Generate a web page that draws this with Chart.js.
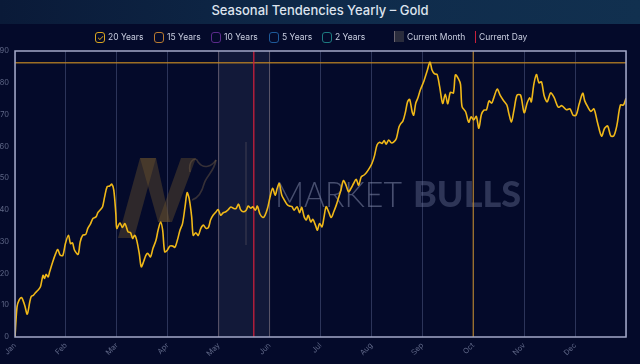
<!DOCTYPE html>
<html><head><meta charset="utf-8">
<script src="https://cdn.jsdelivr.net/npm/chart.js@4/dist/chart.umd.min.js"></script>
<style>
html,body{margin:0;padding:0;background:#040a2a;width:640px;height:364px;overflow:hidden;font-family:Inter,'Open Sans',sans-serif;}
#wrap{position:relative;width:640px;height:364px;}
canvas{position:absolute;left:0;top:0;z-index:1;}
#bar{position:absolute;left:0;top:0;width:640px;height:24px;background:linear-gradient(90deg,#0a1a38 0%,#0f2b4b 55%,#11304f 100%);z-index:2;}
#title{position:absolute;left:0;top:0;width:640px;height:21px;line-height:21px;text-align:center;color:#dde3ee;font-size:13px;font-weight:500;z-index:3;}
#legend{position:absolute;top:31px;left:0;width:640px;height:12px;font-size:8.5px;color:#c9cee0;z-index:3;}
.item{position:absolute;top:0;height:12px;line-height:12px;white-space:nowrap;}
.box{position:absolute;top:1px;width:8px;height:9px;border:1px solid;border-radius:3px;}
.chk{position:absolute;top:0px;left:1px;font-size:8px;line-height:11px;}
</style></head>
<body><div id="wrap">
<canvas id="c" width="640" height="364"></canvas>
<div id="bar"></div><div id="title">Seasonal Tendencies Yearly – Gold</div>
<div id="legend"></div>
</div>
<script>
const months = ['Jan','Feb','Mar','Apr','May','Jun','Jul','Aug','Sep','Oct','Nov','Dec'];
const legendLabels = ['20 Years','15 Years','10 Years','5 Years','2 Years'];
const legendColors = ['#d9a520','#b87a30','#5a2a8a','#1e5a9a','#1d7a80'];
const markerLabels = ['Current Month','Current Day'];
const currentMonth = [4, 5];
const currentDay = 4.69;
const maxLine = 86.3;
const markerMonth = 9;
const xPos = [0.00,0.04,0.08,0.13,0.19,0.24,0.29,0.32,0.36,0.40,0.45,0.50,0.55,0.58,0.61,0.65,0.68,0.74,0.80,0.84,0.89,0.94,0.99,1.05,1.09,1.13,1.17,1.24,1.28,1.33,1.39,1.43,1.48,1.53,1.59,1.63,1.68,1.72,1.76,1.81,1.86,1.90,1.94,1.98,2.00,2.06,2.11,2.16,2.22,2.27,2.31,2.35,2.39,2.44,2.48,2.53,2.57,2.61,2.66,2.71,2.77,2.81,2.86,2.90,2.94,2.99,3.04,3.10,3.14,3.19,3.24,3.29,3.34,3.38,3.42,3.47,3.50,3.55,3.60,3.65,3.70,3.75,3.80,3.84,3.89,3.95,3.99,4.04,4.09,4.14,4.19,4.24,4.29,4.34,4.39,4.43,4.48,4.54,4.58,4.63,4.67,4.72,4.76,4.81,4.87,4.91,4.96,5.01,5.06,5.11,5.15,5.19,5.24,5.29,5.34,5.39,5.44,5.48,5.54,5.59,5.63,5.68,5.72,5.76,5.81,5.85,5.90,5.94,5.98,6.03,6.07,6.11,6.16,6.21,6.26,6.31,6.35,6.40,6.45,6.50,6.55,6.60,6.65,6.70,6.75,6.80,6.85,6.90,6.97,7.01,7.06,7.11,7.16,7.21,7.25,7.29,7.34,7.39,7.44,7.49,7.54,7.57,7.62,7.67,7.71,7.75,7.80,7.83,7.87,7.91,7.96,8.03,8.10,8.15,8.19,8.24,8.29,8.34,8.40,8.45,8.50,8.55,8.61,8.65,8.71,8.75,8.78,8.85,8.91,8.96,9.01,9.06,9.11,9.16,9.21,9.26,9.31,9.36,9.40,9.47,9.53,9.59,9.66,9.70,9.75,9.80,9.86,9.93,10.00,10.06,10.11,10.14,10.19,10.24,10.29,10.34,10.39,10.45,10.52,10.59,10.67,10.74,10.83,10.90,10.96,11.02,11.08,11.15,11.19,11.25,11.31,11.37,11.44,11.52,11.58,11.64,11.70,11.76,11.82,11.89,11.95,12.00];
const gold20 = [0,9.5,11.6,12.4,10,7.2,11,12.8,13.1,13.9,14.7,15.8,19.4,18.4,19.7,18.9,20.5,23.6,26.3,27.5,25.7,25.7,29.4,32,29.4,29.6,27.3,26,29.9,32,32.3,34.2,35.5,37.3,37.8,39.2,40.1,41,44.1,47.3,47.5,48.1,46.2,38.9,34.2,35.9,34.5,35.7,33.1,32.8,31,32,30.5,26.3,22.1,23.9,25.7,26.3,25.2,27.9,30.5,33.6,36.2,33.6,26.8,27.3,28.6,28.6,28.2,30.5,33.6,35.7,41,45.4,43.6,37.8,32,32.8,32,34.2,35.2,34.2,34.5,36.8,38.3,39.4,40.1,38.3,39.1,39.4,40.1,40.9,40.5,40.4,41.8,40.1,39.4,39.9,41.2,40.5,41,39.9,41.2,38.7,37.6,38.3,40.5,44.1,46.8,44.6,46.8,48.3,44.6,43.1,41.8,41.2,41,39.9,41,39.1,40.8,37.8,36.8,38.3,36.2,37,35.2,33.6,35.7,34.7,37.8,41,39.4,37.6,39.4,41.5,43.6,46.2,49.2,47.8,45.7,46.8,48.3,49.6,47.8,50.4,50.9,51.7,53.4,54.6,57,60.4,61.3,60.9,61.8,60.7,62,61.1,61.4,62.5,66,67,68,70.9,74,74.8,70.9,69.8,73.5,75.1,77.7,80.5,84,86.5,84,82.8,82.6,78.8,73.5,76.4,73.4,77,76.8,82.5,81.2,79.5,72.5,70.9,67.6,69.3,68.3,69.4,65.7,70,71.4,71.5,74.3,73.6,75.1,78,76,74.5,73,70.3,67.7,71.4,76.1,76.1,70.6,73.7,75.3,74,79.5,82.6,80,80.3,76.1,74,76.8,75.3,72.3,72.8,71.5,71.8,69.8,69.8,73.3,76.7,74.3,72.4,71,71.8,67.5,63.2,65.7,66.4,63.3,63.3,66.5,73,73,75.1];

// legend (HTML text)
const lg = document.getElementById('legend');
const boxX = [95,154,211,269,322];
legendLabels.forEach((t,i)=>{
  const it=document.createElement('div');it.className='item';it.style.left=boxX[i]+'px';
  const b=document.createElement('div');b.className='box';b.style.borderColor=legendColors[i];b.style.left='0px';
  if(i===0){const k=document.createElement('span');k.className='chk';k.style.color=legendColors[0];k.textContent='✓';b.appendChild(k);}
  const s=document.createElement('span');s.style.position='absolute';s.style.left='13px';s.textContent=t;
  it.appendChild(b);it.appendChild(s);lg.appendChild(it);
});
(function(){
  const it=document.createElement('div');it.className='item';it.style.left='394px';
  const m=document.createElement('div');m.style.cssText='position:absolute;left:0;top:0;width:9px;height:11px;background:#2a2c3c;border-left:1px solid #6a6470;';
  const s=document.createElement('span');s.style.cssText='position:absolute;left:13px;';s.textContent=markerLabels[0];
  it.appendChild(m);it.appendChild(s);lg.appendChild(it);
  const it2=document.createElement('div');it2.className='item';it2.style.left='475px';
  const r=document.createElement('div');r.style.cssText='position:absolute;left:0;top:0;width:1px;height:12px;background:#c8203c;';
  const s2=document.createElement('span');s2.style.cssText='position:absolute;left:4px;';s2.textContent=markerLabels[1];
  it2.appendChild(r);it2.appendChild(s2);lg.appendChild(it2);
})();

const decor = {
  id:'decor',
  beforeDatasetsDraw(chart){
    const {ctx, chartArea:a, scales:{x,y}} = chart;
    ctx.save();
    const x0=x.getPixelForValue(currentMonth[0]), x1=x.getPixelForValue(currentMonth[1]);
    ctx.fillStyle='rgba(70,80,115,0.22)';
    ctx.fillRect(x0,a.top,x1-x0,a.bottom-a.top);
    ctx.strokeStyle='rgba(125,110,115,0.6)';ctx.lineWidth=1;
    [x0,x1].forEach(px=>{ctx.beginPath();ctx.moveTo(px,a.top);ctx.lineTo(px,a.bottom);ctx.stroke();});
    // watermark logo
    ctx.fillStyle='rgba(110,85,45,0.40)';
    const poly=(pts)=>{ctx.beginPath();pts.forEach((p,i)=>i?ctx.lineTo(p[0],p[1]):ctx.moveTo(p[0],p[1]));ctx.closePath();ctx.fill();};
    poly([[118,238],[134,238],[156,158],[140,158]]);
    poly([[140,158],[156,158],[170,222],[158,222]]);
    poly([[158,222],[172,222],[196,158],[181,158]]);
    ctx.strokeStyle='rgba(115,95,70,0.45)';ctx.lineWidth=1.6;
    ctx.beginPath();ctx.moveTo(190,172);ctx.bezierCurveTo(188,160,196,156,198,162);ctx.bezierCurveTo(204,170,212,166,216,160);ctx.stroke();
    ctx.beginPath();ctx.moveTo(216,160);ctx.bezierCurveTo(214,172,206,176,204,184);ctx.bezierCurveTo(202,192,198,198,192,200);ctx.stroke();
    ctx.strokeStyle='rgba(110,100,110,0.5)';ctx.lineWidth=1;
    ctx.beginPath();ctx.moveTo(246,142);ctx.lineTo(246,245);ctx.stroke();
    // watermark text
    ctx.textBaseline='alphabetic';ctx.textAlign='left';
    const fitText=(t,font,color,left,right,base)=>{ctx.font=font;const w=ctx.measureText(t).width;ctx.save();ctx.translate(left,base);ctx.scale((right-left)/w,1);ctx.fillStyle=color;ctx.fillText(t,0,0);ctx.restore();};
    fitText('MARKET','300 36px Lato','rgba(140,148,180,0.5)',275,402,207);
    fitText('BULLS','900 36px Lato','rgba(105,115,150,0.42)',413,521,207);
    // marker lines
    ctx.strokeStyle='rgba(195,135,35,0.8)';ctx.lineWidth=1.3;
    const ym=y.getPixelForValue(maxLine);
    ctx.beginPath();ctx.moveTo(a.left,ym);ctx.lineTo(a.right,ym);ctx.stroke();
    const xo=x.getPixelForValue(markerMonth);
    ctx.beginPath();ctx.moveTo(xo,a.top);ctx.lineTo(xo,a.bottom);ctx.stroke();
    ctx.strokeStyle='#c8203c';ctx.lineWidth=1.3;
    const xd=x.getPixelForValue(currentDay);
    ctx.beginPath();ctx.moveTo(xd,a.top);ctx.lineTo(xd,a.bottom);ctx.stroke();
    ctx.restore();
  },
  afterDraw(chart){
    const {ctx, chartArea:a}=chart;
    ctx.save();ctx.strokeStyle='#a3a8c8';ctx.lineWidth=1.5;
    ctx.strokeRect(a.left,a.top,a.right-a.left,a.bottom-a.top);ctx.restore();
  }
};

new Chart(document.getElementById('c'),{
  type:'line',
  data:{datasets:[{label:legendLabels[0],data:gold20.map((v,i)=>({x:xPos[i],y:v})),borderColor:'#f0b818',borderWidth:1.6,pointRadius:0,tension:0.3,fill:false}]},
  options:{
    responsive:false,animation:false,devicePixelRatio:1,
    layout:{padding:{top:51,right:14,left:0,bottom:0}},
    plugins:{legend:{display:false},tooltip:{enabled:false}},
    scales:{
      x:{type:'linear',min:0,max:12,
        afterFit(s){s.height=27;},
        afterBuildTicks(s){s.ticks=months.map((m,i)=>({value:i})).concat([{value:12}]);},
        ticks:{autoSkip:false,maxRotation:45,minRotation:45,padding:4,color:'#5f6787',font:{size:7.5,family:'Inter'},callback:(v)=>months[v]||''},
        grid:{color:'rgba(110,120,165,0.38)',lineWidth:1,drawTicks:false},border:{display:false}},
      y:{min:0,max:90,
        afterFit(s){s.width=15;},
        ticks:{stepSize:10,padding:6,color:'#5f6787',font:{size:7.5,family:'Inter'}},
        grid:{display:false,drawTicks:false},border:{display:false}}
    }
  },
  plugins:[decor]
});
</script>
</body></html>
